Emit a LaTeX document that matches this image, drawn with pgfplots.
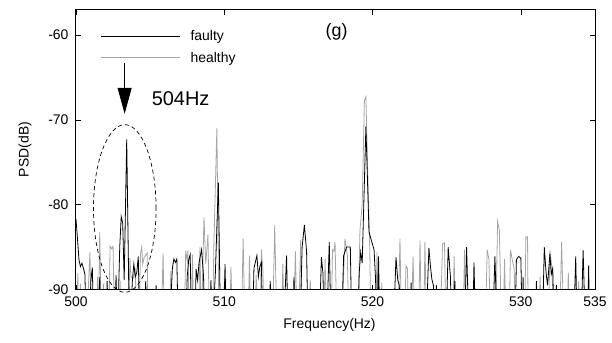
\documentclass[border=0pt]{standalone}
\usepackage{pgfplots}
\pgfplotsset{compat=1.18}
\usepackage{fontspec}
\setmainfont{Liberation Sans}
\usetikzlibrary{arrows.meta}
\definecolor{healthygray}{RGB}{165,165,165}

\begin{document}
\begin{tikzpicture}
\useasboundingbox (-76bp,-53.5bp) rectangle (536bp,289.5bp);
\begin{axis}[
  scale only axis, width=519bp, height=280bp,
  xmin=500, xmax=535, ymin=-90, ymax=-57,
  xtick={500,510,520,530,535}, ytick={-90,-80,-70,-60},
  tick align=inside, major tick length=5bp,
  tick style={black, line width=0.6bp},
  axis line style={line width=1bp},
  /pgf/number format/assume math mode=true,
  ticklabel style={font=\fontsize{14}{16}\selectfont},
  yticklabel style={xshift=-4bp},
  xticklabel style={yshift=-4bp},
  xlabel={Frequency(Hz)}, ylabel={PSD(dB)},
  every axis y label/.style={at={(axis description cs:-0.0983,0.5)}, rotate=90, anchor=center, font=\fontsize{14}{16}\selectfont},
  every axis x label/.style={at={(axis description cs:0.4884,-0.1268)}, anchor=center, font=\fontsize{14}{16}\selectfont},
  legend style={draw=none, fill=none, at={(axis description cs:0.0416,0.94)}, anchor=north west,
    font=\fontsize{14}{16}\selectfont, row sep=6bp},
  legend cell align=left,
  legend image code/.code={\draw[#1] (0bp,0bp) -- (79bp,0bp); \path (87bp,0bp);},
  reverse legend,
]
\addplot[healthygray, line width=0.8bp] coordinates {
(500.05,-95) (500.12,-88.1) (500.2,-95) (500.3,-89.3) (500.38,-95)
(500.7,-95) (500.94,-85.6) (501.05,-95) (501.35,-95) (501.45,-88.5) (501.5,-95)
(501.6,-83.2) (501.72,-95) (501.85,-89.3) (501.95,-95)
(502.2,-95) (502.3,-84.9) (502.4,-85.2) (502.5,-84.9) (502.6,-95)
(502.9,-95) (502.98,-89.0) (503.05,-95)
(503.5,-95) (503.64,-86.3) (503.7,-88.5) (503.85,-88.7) (504.0,-87.7) (504.1,-95)
(504.25,-95) (504.35,-85.8) (504.43,-85.0) (504.5,-87.0) (504.6,-86.2) (504.7,-86.0) (504.8,-85.7) (504.87,-95)
(505.75,-95) (505.87,-85.7) (505.97,-95)
(506.25,-95) (506.4,-87.8) (506.5,-95)
(507.3,-95) (507.4,-85.4) (507.5,-86.6) (507.55,-85.4) (507.65,-95)
(507.78,-95) (507.85,-85.9) (507.95,-95)
(508.25,-95) (508.36,-85.0) (508.45,-95)
(508.63,-81.5) (508.75,-87) (508.9,-83.5) (509.0,-95)
(509.2,-95) (509.3,-84.6) (509.5,-71.0) (509.65,-95)
(509.95,-95) (510.0,-88.5) (510.1,-95)
(510.35,-95) (510.45,-87.3) (510.55,-95)
(511.15,-95) (511.27,-84.0) (511.4,-95)
(511.6,-95) (511.7,-86.0) (511.8,-95)
(512.05,-95) (512.15,-88.3) (512.3,-95)
(512.4,-95) (512.5,-85.3) (512.6,-87.5) (512.7,-95)
(513.25,-95) (513.4,-82.4) (513.55,-95)
(513.85,-95) (513.95,-87) (514.05,-95)
(514.65,-95) (514.8,-85.5) (514.9,-95)
(515.0,-95) (515.15,-84.2) (515.25,-95)
(515.65,-95) (515.8,-88.9) (515.9,-95)
(516.7,-95) (516.8,-86.4) (516.9,-95)
(517.2,-95) (517.3,-85.3) (517.4,-85.5) (517.47,-84.4) (517.6,-95)
(517.9,-95) (518.14,-84.0) (518.3,-86) (518.4,-95)
(519.0,-95) (519.15,-83.0) (519.3,-80) (519.45,-67.7) (519.55,-67.3) (519.7,-78) (519.8,-84.5) (519.9,-95)
(520.2,-95) (520.3,-85.6) (520.4,-95)
(520.55,-95) (520.62,-89.2) (520.7,-95)
(521.7,-95) (521.85,-84.0) (521.95,-95)
(522.15,-95) (522.25,-87.2) (522.35,-87.5) (522.45,-95)
(522.6,-95) (522.73,-86.1) (522.85,-95)
(523.1,-95) (523.2,-84.2) (523.3,-95)
(523.45,-95) (523.53,-84.4) (523.65,-95)
(524.55,-95) (524.72,-84.6) (524.85,-84.5) (524.95,-95)
(525.4,-95) (525.5,-86.1) (525.6,-95)
(526.1,-95) (526.2,-85.3) (526.3,-95)
(527.6,-95) (527.73,-85.3) (527.85,-86.5) (527.95,-95)
(528.3,-95) (528.43,-82.0) (528.55,-83) (528.7,-95)
(528.8,-95) (528.9,-86.4) (529.0,-95)
(529.2,-95) (529.3,-85.3) (529.42,-86.5) (529.55,-87.5) (529.65,-95)
(530.25,-95) (530.34,-83.8) (530.45,-83.8) (530.5,-95)
(531.2,-95) (531.3,-88.5) (531.4,-95)
(531.85,-95) (531.96,-85.4) (532.1,-87.5) (532.2,-95)
(532.6,-95) (532.75,-84.4) (532.9,-95)
(533.1,-95) (533.2,-88.0) (533.3,-95)
(533.8,-95) (533.9,-89) (534.0,-95)
};
\addlegendentry{healthy}
\addplot[black, line width=0.8bp] coordinates {
(500.0,-81.7) (500.1,-84) (500.2,-86.5) (500.3,-87.3) (500.4,-86.9) (500.5,-87.5) (500.6,-88.2) (500.7,-95)
(500.9,-95) (501.0,-89) (501.1,-87.4) (501.2,-95)
(501.5,-95) (501.6,-88.5) (501.7,-95)
(502.0,-95) (502.1,-89.0) (502.2,-95)
(502.6,-95) (502.7,-88.3) (502.8,-95)
(502.95,-85) (503.05,-81.4) (503.15,-82.2) (503.25,-88.9) (503.42,-72.3) (503.55,-88.8) (503.65,-95)
(503.8,-89) (503.9,-87.0) (504.0,-88.5) (504.1,-88.0) (504.2,-86.1) (504.3,-95)
(504.6,-95) (504.7,-89) (504.8,-95)
(505.3,-95) (505.4,-89.5) (505.5,-95)
(506.3,-95) (506.5,-87.5) (506.6,-86.4) (506.7,-86.8) (506.8,-86.4) (506.9,-95)
(507.4,-95) (507.5,-88.5) (507.6,-86.5) (507.7,-85.9) (507.8,-95)
(508.0,-95) (508.1,-87.6) (508.2,-88.9) (508.3,-86.8) (508.47,-85.3) (508.6,-88.4) (508.7,-95)
(509.0,-95) (509.1,-88.9) (509.2,-95)
(509.4,-88) (509.6,-77.4) (509.75,-95)
(509.95,-95) (510.05,-87) (510.15,-95)
(511.9,-95) (512.0,-87.5) (512.2,-86.0) (512.3,-88.5) (512.4,-87.3) (512.5,-86.8) (512.6,-95)
(513.0,-95) (513.1,-89.0) (513.2,-95)
(514.0,-95) (514.2,-86.0) (514.3,-95)
(514.6,-95) (514.7,-88.5) (514.8,-95)
(515.1,-95) (515.25,-85) (515.4,-82.4) (515.55,-85.5) (515.65,-95)
(516.4,-95) (516.55,-86.2) (516.65,-88) (516.75,-95)
(516.9,-95) (517.08,-84.4) (517.2,-95)
(517.9,-95) (518.05,-86) (518.25,-85.0) (518.5,-85.0) (518.6,-95)
(519.0,-95) (519.1,-88) (519.2,-85.6) (519.3,-86.9) (519.55,-70.8) (519.76,-83.2) (519.9,-84.1) (520.1,-85.3) (520.2,-88.7) (520.3,-95)
(520.4,-86.1) (520.5,-95)
(521.4,-95) (521.58,-86.2) (521.7,-88.9) (521.8,-89.5) (521.9,-95)
(522.5,-95) (522.6,-89.2) (522.7,-95)
(523.6,-95) (523.8,-85.1) (523.9,-87.2) (524.0,-88.8) (524.1,-89.5) (524.2,-95)
(524.3,-89.5) (524.4,-95)
(524.95,-95) (525.1,-85.0) (525.25,-88.5) (525.35,-95)
(525.55,-89) (525.6,-95)
(526.2,-95) (526.34,-85.0) (526.5,-95)
(526.75,-95) (526.84,-86.8) (526.95,-95)
(528.1,-95) (528.25,-86.1) (528.4,-95)
(529.6,-95) (529.7,-86.5) (529.85,-86.1) (530.0,-86.3) (530.1,-95)
(530.15,-88.5) (530.2,-95)
(531.0,-95) (531.05,-89) (531.1,-95)
(531.45,-95) (531.58,-85.0) (531.7,-88) (531.8,-89.5) (531.96,-85.8) (532.05,-88.2) (532.15,-87.5) (532.25,-95)
(532.4,-89.5) (532.5,-95)
(533.55,-95) (533.7,-86.1) (533.8,-95)
(534.05,-95) (534.2,-85.4) (534.35,-95)
(534.5,-95) (534.57,-87.2) (534.65,-95)
};
\addlegendentry{faulty}
\node[anchor=west, inner sep=0pt, font=\fontsize{20}{24}\selectfont] at (axis cs:505.1,-67.45) {504Hz};
\node[inner sep=0pt, font=\fontsize{18}{22}\selectfont] at (axis cs:517.57,-59.65) {(g)};
\draw[-{Triangle[length=26bp,width=14bp]}, line width=0.8bp] (axis cs:503.28,-63.33) -- (axis cs:503.28,-69.29);
\coordinate (ec) at (axis cs:503.29,-80.45);
\coordinate (bl) at (rel axis cs:0,0);
\coordinate (br) at (rel axis cs:1,0);
\end{axis}
\draw[line width=1.8bp] (bl) -- (br);
\draw[dash pattern=on 4bp off 3bp, line width=0.7bp] (ec) ellipse [x radius=31.3bp, y radius=83.8bp];
\end{tikzpicture}
\end{document}
